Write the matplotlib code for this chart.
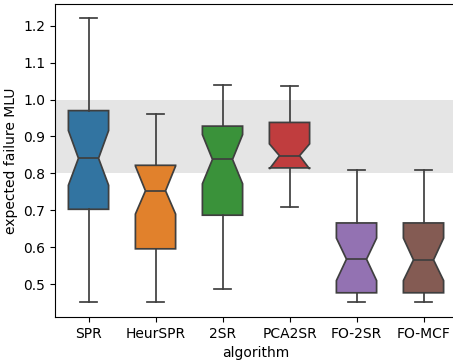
import matplotlib
matplotlib.use('Agg')
import matplotlib.pyplot as plt

algorithms = ['SPR', 'HeurSPR', '2SR', 'PCA2SR', 'FO-2SR', 'FO-MCF']
whis_lo = [0.451, 0.451, 0.486, 0.709, 0.451, 0.451]
q1 = [0.703, 0.596, 0.687, 0.815, 0.477, 0.477]
ci_lo = [0.768, 0.690, 0.772, 0.812, 0.510, 0.510]
median = [0.841, 0.753, 0.838, 0.848, 0.568, 0.566]
ci_hi = [0.916, 0.820, 0.905, 0.880, 0.625, 0.625]
q3 = [0.970, 0.822, 0.928, 0.938, 0.666, 0.666]
whis_hi = [1.220, 0.962, 1.040, 1.037, 0.809, 0.809]
colors = ['#3274a1', '#e1812c', '#3a923a', '#c03d3e', '#9372b2', '#845b53']

stats = []
for i, name in enumerate(algorithms):
    stats.append(dict(label=name, whislo=whis_lo[i], q1=q1[i], med=median[i],
                      q3=q3[i], whishi=whis_hi[i], cilo=ci_lo[i], cihi=ci_hi[i],
                      fliers=[]))

fig = plt.figure(figsize=(4.53, 3.62), dpi=100)
# the right spine falls just outside the saved picture
ax = fig.add_axes([55 / 453, 45 / 362, 402 / 453, 313 / 362])

ax.axhspan(0.8, 1.0, color='#e5e5e5', zorder=0, lw=0)

line_col = '#3f3f3f'
props = dict(color=line_col, linewidth=1.25)
bp = ax.bxp(stats, positions=range(len(algorithms)), widths=0.6, capwidths=0.25,
            shownotches=True, patch_artist=True, showfliers=False,
            boxprops=dict(edgecolor=line_col, linewidth=1.25),
            medianprops=props, whiskerprops=props, capprops=props)
for patch, c in zip(bp['boxes'], colors):
    patch.set_facecolor(c)

ax.set_xlim(-0.5, len(algorithms) - 0.5)
ax.set_ylim(0.4115, 1.2585)
ax.set_xticks(range(len(algorithms)))
ax.set_xticklabels(algorithms)
ax.set_xlabel('algorithm')
ax.set_ylabel('expected failure MLU')

fig.savefig('out.png', dpi=100)
